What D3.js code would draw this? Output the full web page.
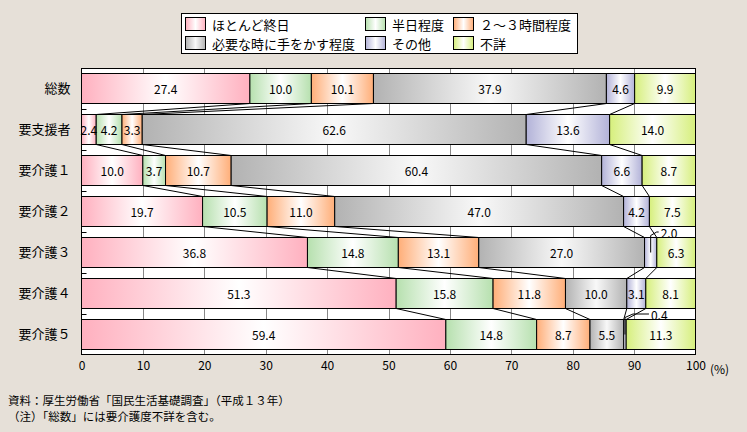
<!DOCTYPE html>
<html><head><meta charset="utf-8">
<script src="https://cdn.jsdelivr.net/npm/d3@7"></script>
<style>
html,body{margin:0;padding:0;background:#e6e0d8;}
svg{display:block;font-family:"Noto Sans CJK JP","Noto Sans",sans-serif;}
</style></head>
<body>
<svg id="chart" width="747" height="432"></svg>
<script>
const categories = ["総数","要支援者","要介護１","要介護２","要介護３","要介護４","要介護５"];
const seriesNames = ["ほとんど終日","半日程度","２～３時間程度","必要な時に手をかす程度","その他","不詳"];
const v1 = [27.4, 2.4, 10.0, 19.7, 36.8, 51.3, 59.4]; // ほとんど終日
const v2 = [10.0, 4.2, 3.7, 10.5, 14.8, 15.8, 14.8]; // 半日程度
const v3 = [10.1, 3.3, 10.7, 11.0, 13.1, 11.8, 8.7];  // ２～３時間程度
const v4 = [37.9, 62.6, 60.4, 47.0, 27.0, 10.0, 5.5]; // 必要な時に手をかす程度
const v5 = [4.6, 13.6, 6.6, 4.2, 2.0, 3.1, 0.4];     // その他
const v6 = [9.9, 14.0, 8.7, 7.5, 6.3, 8.1, 11.3];    // 不詳
const xTicks = [0,10,20,30,40,50,60,70,80,90,100];
const colors = ["#ffb0bf","#b6e0ae","#ffae78","#b2b2b2","#b2b2d8","#d6ef7c"];
const centers = ["#ffffff","#ffffff","#ffffff","#f8f8f8","#ffffff","#ffffff"];
const annotations = [{cat:"要介護３", s:4, dx:10}, {cat:"要介護５", s:4, dx:26}];

const series = [v1,v2,v3,v4,v5,v6];
const svg = d3.select("#chart");
const defs = svg.append("defs");
colors.forEach((c,i)=>{
  const g = defs.append("linearGradient").attr("id","g"+i).attr("x1","0").attr("x2","1").attr("y1","0").attr("y2","0");
  g.append("stop").attr("offset","0").attr("stop-color",c);
  g.append("stop").attr("offset","0.5").attr("stop-color",centers[i]);
  g.append("stop").attr("offset","1").attr("stop-color",c);
});

const x = d3.scaleLinear().domain([0,100]).range([81.5,695.5]);
const y = d3.scaleBand().domain(categories).range([68.5,354.5]).paddingInner(11/41).paddingOuter(5/41);
const bw = y.bandwidth();
const isAnnotated = (c,si)=>annotations.some(a=>a.cat===c && a.s===si);

// rows with cumulative positions (normalized to 100)
const rows = categories.map((c,ci)=>{
  const vals = series.map(s=>s[ci]);
  const tot = d3.sum(vals);
  let cum = 0;
  const segs = vals.map((v,si)=>{ const s0 = cum; cum += v; return {cat:c, si, v, x0:s0/tot*100, x1:cum/tot*100}; });
  return {cat:c, segs};
});

// plot background
svg.append("rect").attr("x",x(0)).attr("y",68.5).attr("width",x(100)-x(0)).attr("height",286).attr("fill","#fff");
// gridlines
svg.append("g").selectAll("line").data(xTicks.slice(1,-1)).join("line")
  .attr("x1",d=>Math.round(x(d))+0.5).attr("x2",d=>Math.round(x(d))+0.5)
  .attr("y1",68.5).attr("y2",354.5).attr("stroke","#888").attr("stroke-width",1);
// category tick marks in gaps
svg.append("g").selectAll("line").data(categories.slice(1)).join("line")
  .attr("x1",x(0)).attr("x2",x(0)+5)
  .attr("y1",d=>Math.round(y(d)-5.5)+0.5).attr("y2",d=>Math.round(y(d)-5.5)+0.5)
  .attr("stroke","#000");

// connector lines
const conn = svg.append("g");
for(let i=0;i<rows.length-1;i++){
  const a=rows[i], b=rows[i+1];
  for(let k=0;k<5;k++){
    conn.append("line")
      .attr("x1",x(a.segs[k].x1)).attr("y1",y(a.cat)+bw)
      .attr("x2",x(b.segs[k].x1)).attr("y2",y(b.cat))
      .attr("stroke","#000").attr("stroke-width",1);
  }
}

// bars
const barG = svg.append("g");
rows.forEach(r=>{
  barG.selectAll(null).data(r.segs).join("rect")
    .attr("x",d=>x(d.x0)).attr("y",y(r.cat))
    .attr("width",d=>x(d.x1)-x(d.x0)).attr("height",bw)
    .attr("fill",d=>"url(#g"+d.si+")").attr("stroke","#000").attr("stroke-width",1);
  barG.selectAll(null).data(r.segs.filter(d=>!isAnnotated(d.cat,d.si))).join("text")
    .attr("x",d=>(x(d.x0)+x(d.x1))/2).attr("y",y(r.cat)+bw/2)
    .attr("text-anchor","middle").attr("dominant-baseline","central")
    .attr("font-size",12).attr("fill","#000").text(d=>d.v.toFixed(1));
});

// annotations for tiny segments
annotations.forEach(a=>{
  const r = rows.find(r=>r.cat===a.cat);
  const s = r.segs[a.s];
  const cx = (x(s.x0)+x(s.x1))/2;
  const top = y(a.cat);
  const gy = top-5.5;
  svg.append("path")
    .attr("d",`M${cx},${top+15} L${cx},${top-2} L${cx+Math.min(8,a.dx-4)},${gy} L${cx+a.dx-2},${gy}`)
    .attr("fill","none").attr("stroke","#000").attr("stroke-width",1);
  svg.append("text").attr("x",cx+a.dx).attr("y",gy).attr("dominant-baseline","central")
    .attr("font-size",12).text(s.v.toFixed(1));
});

// frame
svg.append("rect").attr("x",x(0)).attr("y",68.5).attr("width",x(100)-x(0)).attr("height",286)
  .attr("fill","none").attr("stroke","#000").attr("stroke-width",1);

// x axis labels
const xAxis = d3.axisBottom(x).tickValues(xTicks).tickSize(0).tickPadding(7).tickFormat(d3.format("d"));
const xg = svg.append("g").attr("transform","translate(0,354.5)").call(xAxis);
xg.select(".domain").remove();
xg.selectAll("text").attr("font-size",12).attr("font-family","'Noto Sans CJK JP',sans-serif").attr("fill","#000");
svg.append("text").attr("x",710).attr("y",368).attr("dominant-baseline","central").attr("font-size",12).text("(%)");

// y axis labels
const yAxis = d3.axisLeft(y).tickSize(0).tickPadding(11);
const yg = svg.append("g").attr("transform",`translate(${x(0)},0)`).call(yAxis);
yg.select(".domain").remove();
yg.selectAll("text").attr("font-size",13).attr("font-family","'Noto Sans CJK JP',sans-serif").attr("fill","#000");

// legend
const lg = svg.append("g");
lg.append("rect").attr("x",181.5).attr("y",13.5).attr("width",396).attr("height",40).attr("fill","#fff").attr("stroke","#000");
const legPos = [[185,24],[365,24],[453,24],[185,43],[365,43],[453,43]];
seriesNames.forEach((name,i)=>{
  const [lx,ly] = legPos[i];
  lg.append("rect").attr("x",lx+0.5).attr("y",ly-6.5).attr("width",20).attr("height",13)
    .attr("fill","url(#g"+i+")").attr("stroke","#000");
  lg.append("text").attr("x",lx+27).attr("y",ly).attr("dominant-baseline","central")
    .attr("font-size",13).text(name);
});

// footnotes
svg.append("text").attr("x",8).attr("y",400).attr("dominant-baseline","central").attr("font-size",11.5)
  .text("資料：厚生労働省「国民生活基礎調査」（平成１３年）");
svg.append("text").attr("x",8).attr("y",416).attr("dominant-baseline","central").attr("font-size",11.5)
  .text("（注）「総数」には要介護度不詳を含む。");
</script>
</body></html>
